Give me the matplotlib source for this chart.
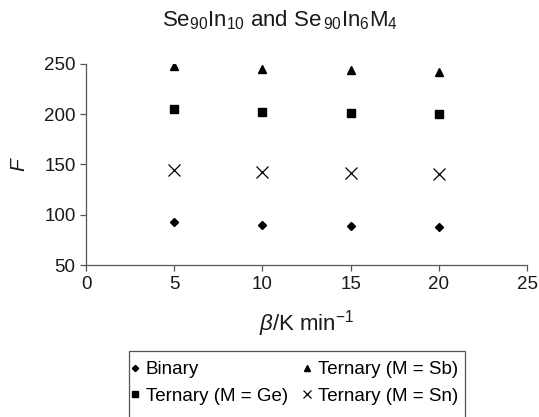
import matplotlib
matplotlib.use("Agg")
import matplotlib.pyplot as plt
from matplotlib.patches import Rectangle

plt.rcParams['font.family'] = ['Liberation Sans', 'DejaVu Sans']
plt.rcParams['mathtext.fontset'] = 'custom'
plt.rcParams['mathtext.rm'] = 'Liberation Sans'
plt.rcParams['mathtext.it'] = 'Liberation Sans:italic'

beta = [5, 10, 15, 20]
binary = [92.5, 90, 89, 88]
tern_ge = [205, 202.5, 201, 200]
tern_sb = [248, 245, 243.7, 242.3]
tern_sn = [145, 143, 141.5, 141]
xticks = [0, 5, 10, 15, 20, 25]
yticks = [50, 100, 150, 200, 250]

W, H = 539, 417
fig = plt.figure(figsize=(W/100, H/100), dpi=100)
ax = fig.add_axes([86/W, 1-265/H, (527-86)/W, (265-64)/H])

h1, = ax.plot(beta, binary, linestyle='none', marker='D', ms=4.5, color='black', label='Binary')
h2, = ax.plot(beta, tern_ge, linestyle='none', marker='s', ms=5.5, color='black', label='Ternary (M = Ge)')
h3, = ax.plot(beta, tern_sb, linestyle='none', marker='^', ms=6, color='black', label='Ternary (M = Sb)')
h4, = ax.plot(beta, tern_sn, linestyle='none', marker='x', ms=8, mew=0.9, color='black', label='Ternary (M = Sn)')

ax.set_xlim(0, 25)
ax.set_ylim(50, 250)
ax.set_xticks(xticks)
ax.set_yticks(yticks)
for s in ['top', 'right']:
    ax.spines[s].set_visible(False)
for s in ['left', 'bottom']:
    ax.spines[s].set_color('#555555')
    ax.spines[s].set_linewidth(0.9)
ax.tick_params(direction='out', length=4, width=0.9, color='#555555', labelsize=13.5, colors='#1a1a1a')
ax.tick_params(axis='x', pad=4)

ax.set_xlabel(r'$\it{\beta}$/K min$^{-1}$', fontsize=16, color='#1a1a1a')
ax.set_ylabel(r'$\it{F}$', fontsize=15, color='#1a1a1a')
ax.yaxis.set_label_coords(-57/441, 0.5)
ax.xaxis.set_label_coords(0.5, -(308-265)/201)

fig.text(280/W, 1-20/H, r'Se$_{90}$In$_{10}$ and Se$_{\,90}$In$_{6}$M$_{4}$', ha='center', va='center', fontsize=16, color='#1a1a1a')

leg = fig.legend(handles=[h1, h2, h3, h4], ncol=2, loc='upper left',
                 bbox_to_anchor=(121/W, 1-351/H), fontsize=13.5, frameon=False,
                 handlelength=0.4, handletextpad=0.4, columnspacing=0.8,
                 borderaxespad=0, borderpad=0.53, labelspacing=0.5, markerscale=0.7)

fig.patches.append(Rectangle((129/W, -10/H), (465-129)/W, (H-351+10)/H,
                             transform=fig.transFigure, fill=False, edgecolor='#555555',
                             linewidth=0.9, clip_on=False))

fig.savefig('out.png', dpi=100)
